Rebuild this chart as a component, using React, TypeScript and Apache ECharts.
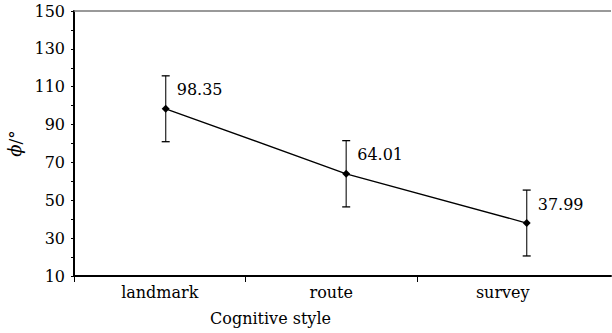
import React, { useEffect, useRef } from 'react';
import * as echarts from 'echarts';

const categories = ['landmark', 'route', 'survey'];
const meanValues = [98.35, 64.01, 37.99];
const errorValues = [17.4, 17.5, 17.4];
const yMin = 10;
const yMax = 150;
const yLabelStep = 20;
const xAxisTitle = 'Cognitive style';
const yAxisSymbol = 'ϕ';
const yAxisUnit = '/°';

export default function App() {
  const ref = useRef<HTMLDivElement>(null);
  useEffect(() => {
    const chart = echarts.init(ref.current as HTMLDivElement, null, { renderer: 'svg' });
    const font = 'DejaVu Serif';
    const pointData = categories.map((c, i) => [i, meanValues[i]]);
    const errData = categories.map((c, i) => [i, meanValues[i] - errorValues[i], meanValues[i] + errorValues[i]]);
    const hiddenAxisParts = {
      axisLine: { show: false }, axisTick: { show: false }, axisLabel: { show: false },
      splitLine: { show: false }, minorTick: { show: false }, minorSplitLine: { show: false }, splitArea: { show: false },
    };
    const option: any = {
      animation: false,
      backgroundColor: '#fff',
      textStyle: { fontFamily: font },
      grid: [
        { show: false, borderWidth: 0, left: 74, top: 11, width: 537, height: 265, outerBoundsMode: 'none', containLabel: false },
        { show: false, borderWidth: 0, left: 74, top: 276, width: 514.5, height: 6, outerBoundsMode: 'none', containLabel: false },
      ],
      xAxis: [
        {
          type: 'value', gridIndex: 0, min: -0.508, max: 2.467, position: 'bottom',
          ...hiddenAxisParts,
          axisLine: { show: true, onZero: false, lineStyle: { color: '#000', width: 2 } },
        },
        {
          type: 'category', gridIndex: 1, data: categories, boundaryGap: true, position: 'bottom',
          axisLine: { show: false }, axisTick: { show: false }, splitArea: { show: false },
          splitLine: { show: true, showMinLine: true, showMaxLine: false, lineStyle: { color: '#000', width: 1 } },
          axisLabel: { margin: 2, fontFamily: font, fontSize: 16, color: '#000' },
        },
      ],
      yAxis: [
        {
          type: 'value', gridIndex: 0, position: 'left', min: yMin, max: yMax, interval: 10,
          axisLine: { show: true, onZero: false, lineStyle: { color: '#000', width: 2 } },
          axisTick: { show: true, length: 3, lineStyle: { color: '#000', width: 1 } },
          splitLine: { show: false }, splitArea: { show: false },
          axisLabel: {
            formatter: (v: number) => ((v - yMin) % yLabelStep === 0 ? String(v) : ''),
            fontFamily: font, fontSize: 16, color: '#000', margin: 9,
          },
          name: '{i|' + yAxisSymbol + '}' + yAxisUnit,
          nameLocation: 'middle', nameRotate: 90, nameGap: 47,
          nameTextStyle: {
            fontFamily: font, fontSize: 17, color: '#000',
            rich: { i: { fontStyle: 'italic', fontFamily: font, fontSize: 18, color: '#000' } },
          },
        },
        { type: 'value', gridIndex: 1, position: 'left', show: false, ...hiddenAxisParts },
      ],
      graphic: [
        {
          type: 'text', x: 270.5, y: 318,
          style: { text: xAxisTitle, fontFamily: font, fontSize: 16, fill: '#000', align: 'center', verticalAlign: 'middle' },
        },
      ],
      series: [
        {
          type: 'custom', xAxisIndex: 0, yAxisIndex: 0, z: 2,
          data: errData,
          encode: { x: 0, y: [1, 2] },
          renderItem: (params: any, api: any) => {
            const x = api.value(0);
            const lo = api.coord([x, api.value(1)]);
            const hi = api.coord([x, api.value(2)]);
            const cap = 4;
            const style = { stroke: '#333', lineWidth: 1.3 };
            return {
              type: 'group',
              children: [
                { type: 'line', shape: { x1: lo[0], y1: lo[1], x2: hi[0], y2: hi[1] }, style },
                { type: 'line', shape: { x1: lo[0] - cap, y1: lo[1], x2: lo[0] + cap, y2: lo[1] }, style: { stroke: '#000', lineWidth: 1.3 } },
                { type: 'line', shape: { x1: hi[0] - cap, y1: hi[1], x2: hi[0] + cap, y2: hi[1] }, style: { stroke: '#000', lineWidth: 1.3 } },
              ],
            };
          },
        },
        {
          type: 'line', xAxisIndex: 0, yAxisIndex: 0, z: 3,
          data: pointData,
          symbol: 'diamond', symbolSize: 8,
          itemStyle: { color: '#000' },
          lineStyle: { color: '#000', width: 1.3 },
          label: {
            show: true, position: 'right', distance: 5, offset: [2, -19],
            fontFamily: font, fontSize: 16, color: '#000',
            formatter: (p: any) => Number(p.value[1]).toFixed(2),
          },
          markLine: {
            silent: true, symbol: 'none', label: { show: false },
            lineStyle: { color: '#777', width: 1.5, type: 'solid' },
            data: [{ yAxis: yMax }],
          },
        },
      ],
    };
    chart.setOption(option);
    return () => chart.dispose();
  }, []);
  return <div ref={ref} style={{ position: 'fixed', left: 0, top: 0, width: 612, height: 333 }} />;
}
